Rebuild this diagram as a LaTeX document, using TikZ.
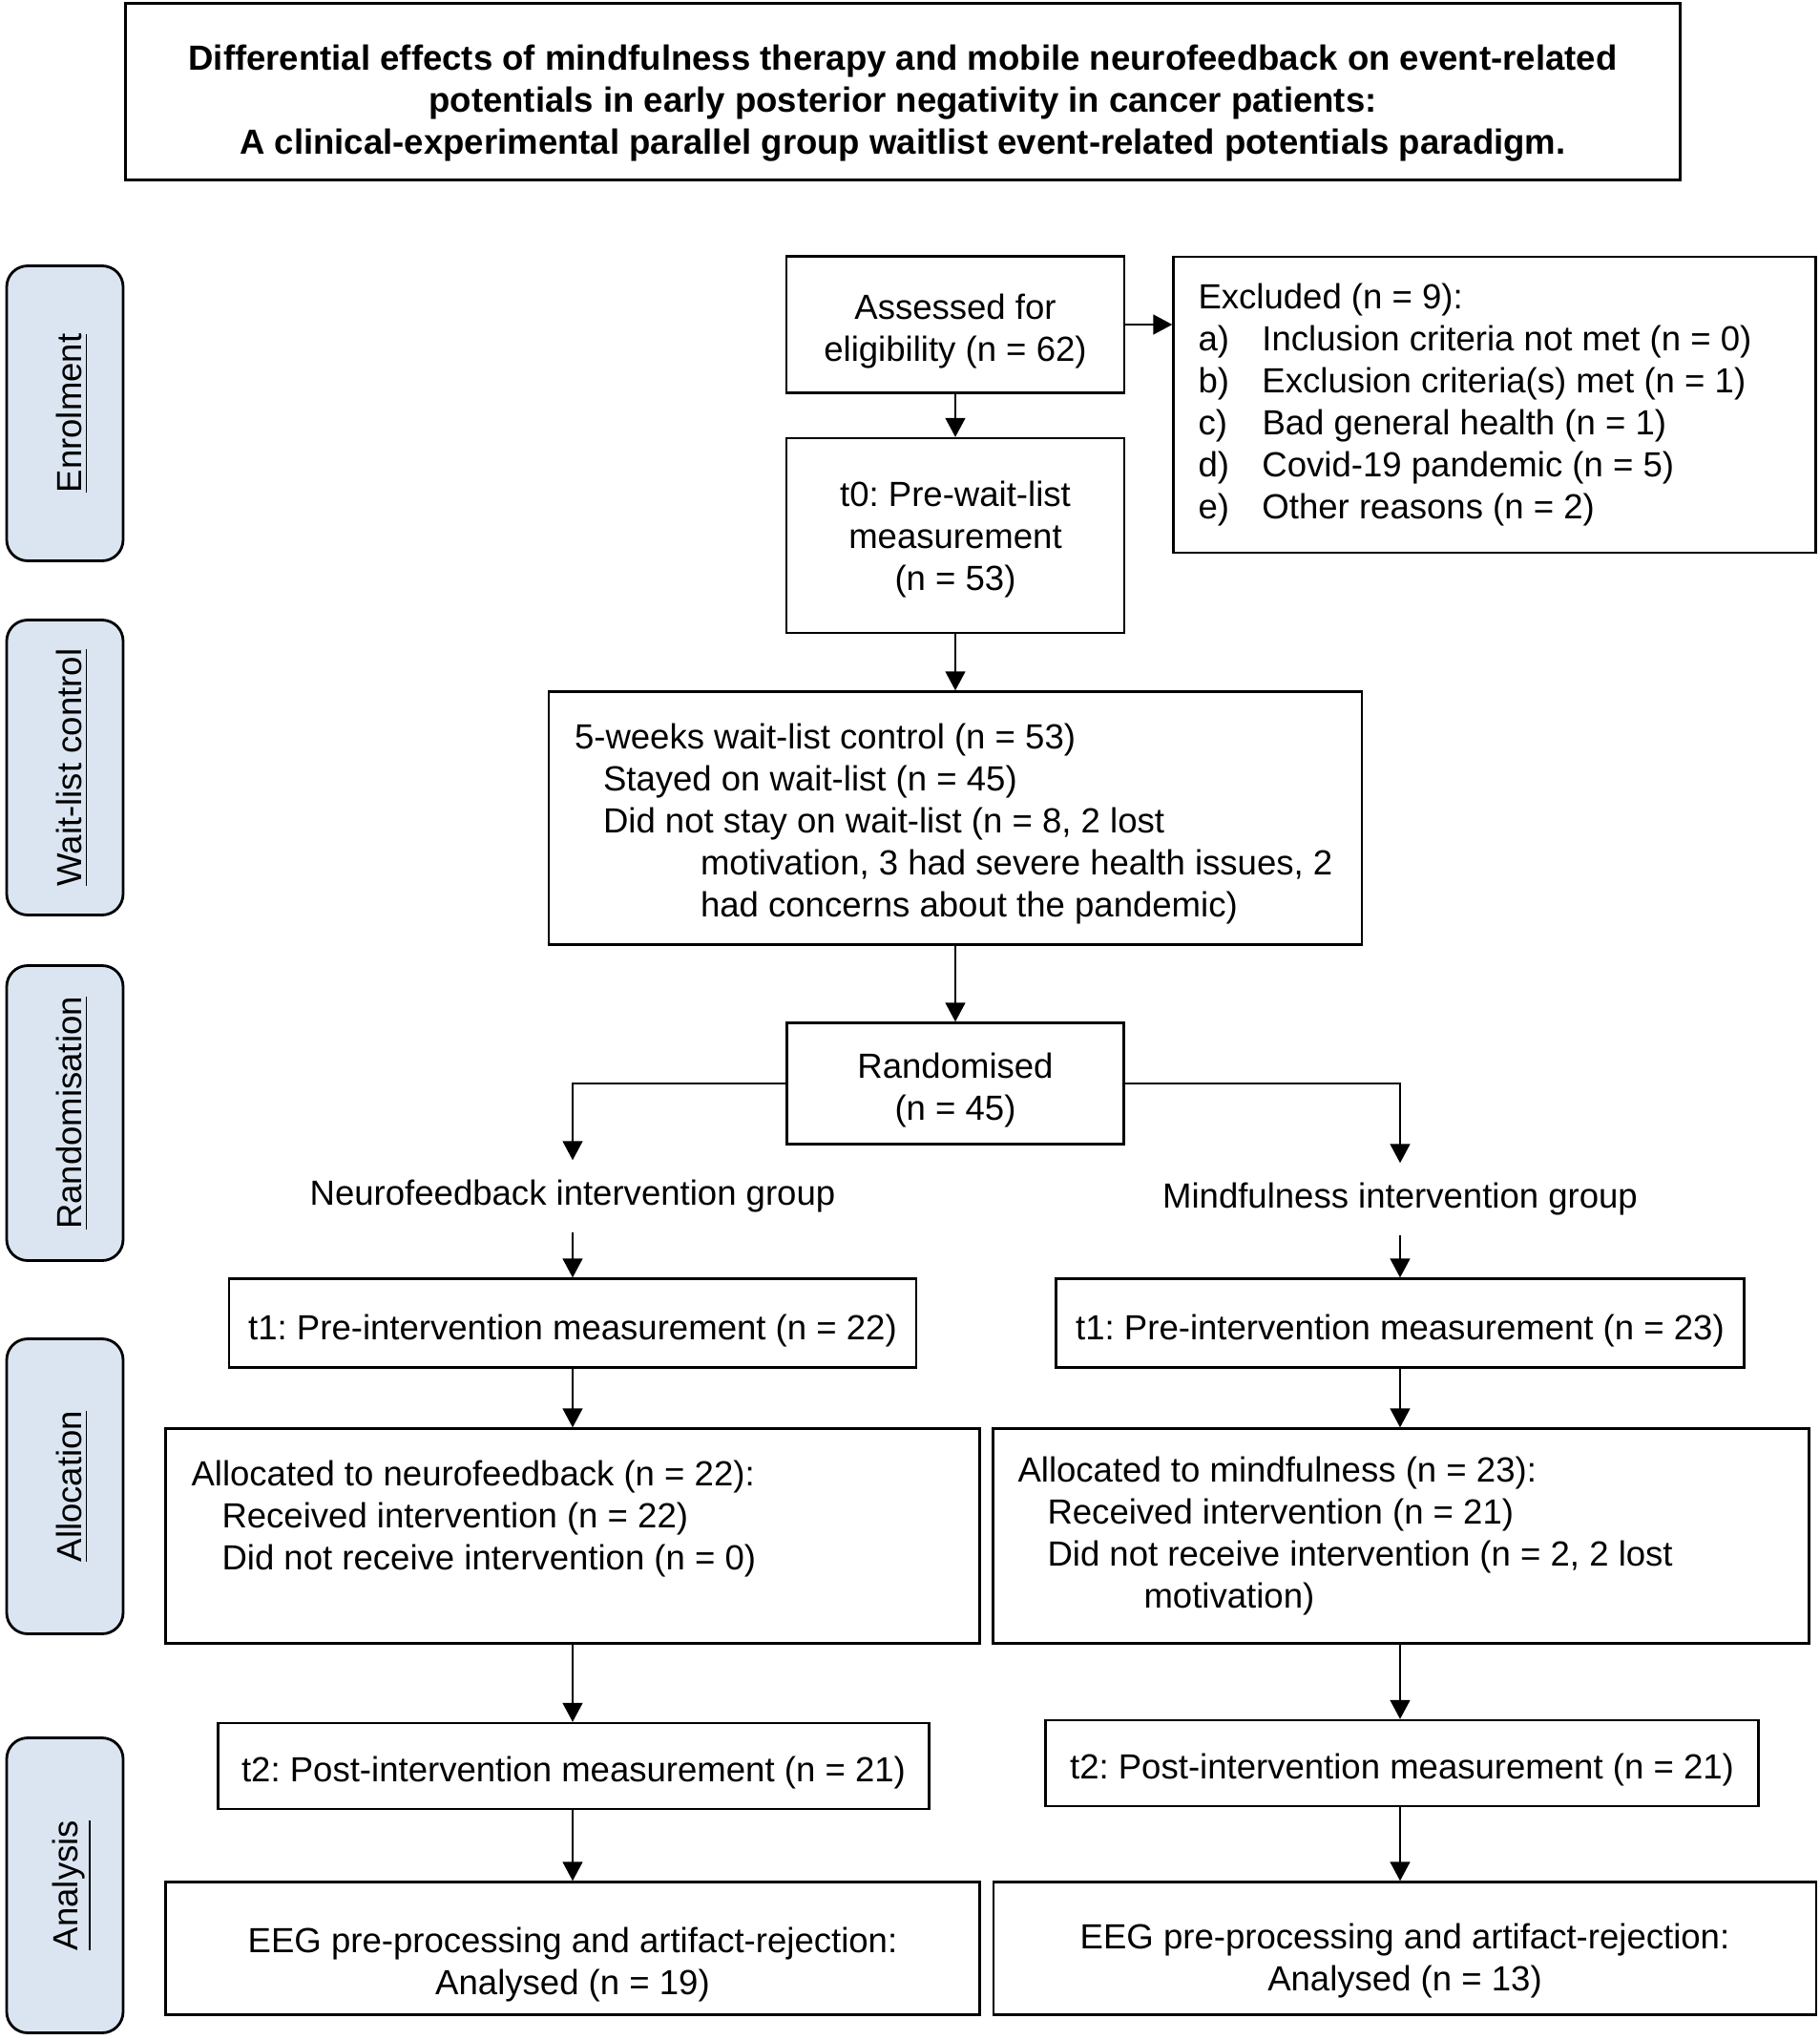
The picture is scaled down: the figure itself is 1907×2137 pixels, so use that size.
\documentclass[tikz,border=0pt]{standalone}
\usepackage{fontspec}
\setmainfont{Liberation Sans}
\usetikzlibrary{arrows.meta}

\definecolor{phaseblue}{HTML}{DBE5F1}
\newcommand{\flowfont}{\fontsize{10.4}{12.5}\selectfont\frenchspacing}

\tikzset{
  box/.style={draw, line width=0.7pt, align=flush center, inner xsep=2mm, inner ysep=0.5mm, font=\flowfont},
  listbox/.style={box, align=flush left, inner xsep=2.7mm},
  drop/.style={execute at begin node={\rule{0pt}{#1}}},
  grouplabel/.style={inner sep=2mm, font=\flowfont},
  phase/.style={draw, line width=0.8pt, rounded corners=2.2mm, fill=phaseblue,
    rotate=90, minimum width=30.9mm, minimum height=12.2mm, font=\flowfont, drop=4.2mm},
  arr/.style={line width=0.45pt, -{Triangle[width=2.1mm,length=2mm]}}
}

\begin{document}
\begin{tikzpicture}[x=0.1mm, y=-0.1mm]
        \useasboundingbox (0,0) rectangle (1907,2137);

        % title
        \node[box, text width=158.9mm, drop=5.1mm, line width=0.9pt, minimum width=162.9mm, minimum height=18.5mm, font=\flowfont\bfseries] (title) at (946,96)
            {Differential effects of mindfulness therapy and mobile neurofeedback on event-related\\
             potentials in early posterior negativity in cancer patients:\\
             A clinical-experimental parallel group waitlist event-related potentials paradigm.};

        % phases
        \node[phase] (enrol) at (68,433) {\underline{Enrolment}};
        \node[phase] (waitphase) at (68,804) {\underline{Wait-list control}};
        \node[phase] (randphase) at (68,1166) {\underline{Randomisation}};
        \node[phase] (allocphase) at (68,1557) {\underline{Allocation}};
        \node[phase] (analysis) at (68,1975) {\underline{Analysis}};

        % enrolment and wait-list
        \node[box, text width=31.4mm, drop=4.1mm, minimum width=35.4mm, minimum height=14.3mm] (assess) at (1001,340) {Assessed for\\eligibility (n = 62)};
        \node[listbox, text width=62.1mm, inner xsep=2.6mm, minimum height=31mm] (excl) at (1566,424)
            {Excluded (n = 9):\\
             \makebox[6.7mm][l]{a)}Inclusion criteria not met (n = 0)\\
             \makebox[6.7mm][l]{b)}Exclusion criteria(s) met (n = 1)\\
             \makebox[6.7mm][l]{c)}Bad general health (n = 1)\\
             \makebox[6.7mm][l]{d)}Covid-19 pandemic (n = 5)\\
             \makebox[6.7mm][l]{e)}Other reasons (n = 2)};
        \node[box, text width=31.4mm, drop=3.5mm, minimum width=35.4mm, minimum height=20.4mm] (t0) at (1001,561) {t0: Pre-wait-list\\measurement\\(n = 53)};
        \node[listbox, text width=79.8mm, drop=3.8mm, minimum height=26.5mm] (wait) at (1001,857)
            {5-weeks wait-list control (n = 53)\\
             \hspace*{3mm}Stayed on wait-list (n = 45)\\
             \hspace*{3mm}Did not stay on wait-list (n = 8, 2 lost\\
             \mbox{\hspace*{13.2mm}motivation, 3 had severe health issues, 2}\\
             \hspace*{13.2mm}had concerns about the pandemic)};
        \node[box, text width=31.3mm, drop=4.1mm, minimum width=35.3mm, minimum height=12.7mm] (rand) at (1001,1135) {Randomised\\(n = 45)};

        % groups
        \node[grouplabel] (nfgroup) at (600,1253) {Neurofeedback intervention group};
        \node[grouplabel] (mfgroup) at (1467,1256) {Mindfulness intervention group};

        \node[box, drop=4.3mm, minimum width=72mm, minimum height=9.3mm] (t1nf) at (600,1386) {t1: Pre-intervention measurement (n = 22)};
        \node[box, drop=4.3mm, minimum width=72.1mm, minimum height=9.3mm] (t1mf) at (1467,1386) {t1: Pre-intervention measurement (n = 23)};

        \node[listbox, text width=79.9mm, minimum height=22.5mm] (allocnf) at (600,1609)
            {Allocated to neurofeedback (n = 22):\\
             \hspace*{3.2mm}Received intervention (n = 22)\\
             \hspace*{3.2mm}Did not receive intervention (n = 0)\\
             \mbox{}};
        \node[listbox, text width=80.3mm, inner xsep=2.6mm, minimum height=22.5mm] (allocmf) at (1468,1609)
            {Allocated to mindfulness (n = 23):\\
             \hspace*{3.1mm}Received intervention (n = 21)\\
             \hspace*{3.1mm}Did not receive intervention (n = 2, 2 lost\\
             \hspace*{13.2mm}motivation)};

        \node[box, drop=4.1mm, minimum width=74.5mm, minimum height=9mm] (t2nf) at (601,1850) {t2: Post-intervention measurement (n = 21)};
        \node[box, drop=4.1mm, minimum width=74.7mm, minimum height=9mm] (t2mf) at (1469,1847) {t2: Post-intervention measurement (n = 21)};

        \node[box, text width=81.3mm, drop=6mm, minimum width=85.3mm, minimum height=13.9mm] (eegnf) at (600,2041) {EEG pre-processing and artifact-rejection:\\Analysed (n = 19)};
        \node[box, text width=82.2mm, drop=5.2mm, minimum width=86.2mm, minimum height=13.9mm] (eegmf) at (1472,2041) {EEG pre-processing and artifact-rejection:\\Analysed (n = 13)};

        % connectors
        \draw[arr] (assess) -- (t0);
        \draw[arr] (assess.east) -- (assess.east -| excl.west);
        \draw[arr] (t0) -- (wait);
        \draw[arr] (wait) -- (rand);
        \draw[arr] (rand.west) -| (nfgroup.north);
        \draw[arr] (rand.east) -| (mfgroup.north);
        \draw[arr] (nfgroup.south) -- (nfgroup.south |- t1nf.north);
        \draw[arr] (mfgroup.south) -- (mfgroup.south |- t1mf.north);
        \draw[arr] (t1nf.south -| nfgroup) -- (allocnf.north -| nfgroup);
        \draw[arr] (t1mf.south -| mfgroup) -- (allocmf.north -| mfgroup);
        \draw[arr] (allocnf.south -| nfgroup) -- (t2nf.north -| nfgroup);
        \draw[arr] (allocmf.south -| mfgroup) -- (t2mf.north -| mfgroup);
        \draw[arr] (t2nf.south -| nfgroup) -- (eegnf.north -| nfgroup);
        \draw[arr] (t2mf.south -| mfgroup) -- (eegmf.north -| mfgroup);
\end{tikzpicture}
\end{document}
